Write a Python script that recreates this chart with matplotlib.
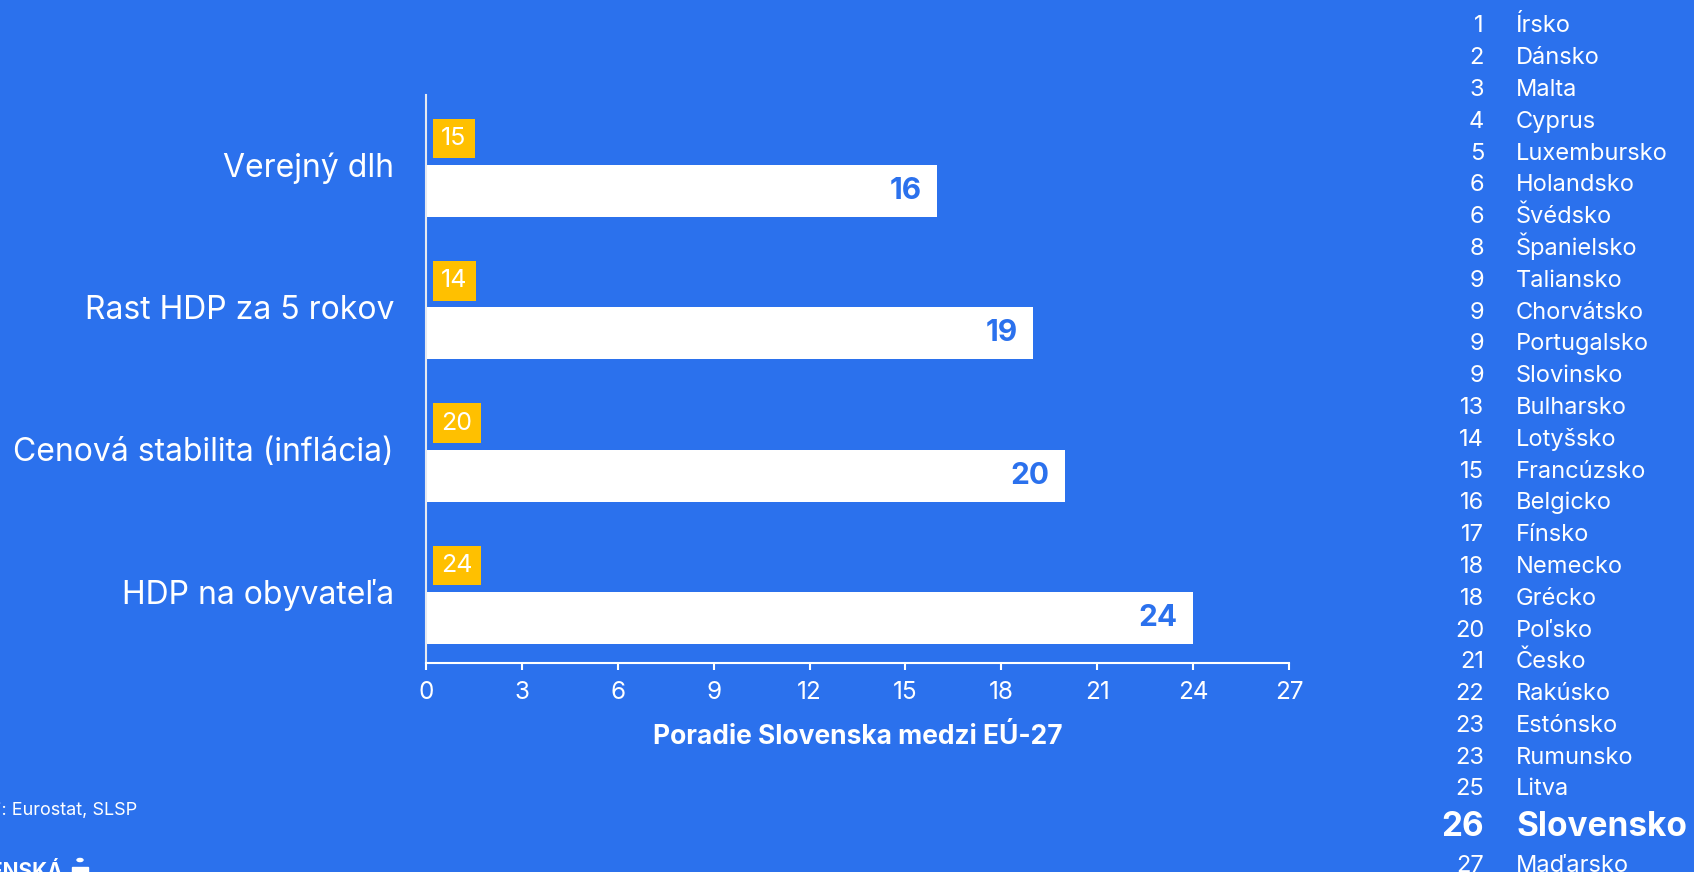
import matplotlib
matplotlib.use("Agg")
import matplotlib.pyplot as plt
from matplotlib.patches import Circle, Rectangle

# Poradie Slovenska medzi EU-27
categories = ["Verejný dlh", "Rast HDP za 5 rokov", "Cenová stabilita (inflácia)", "HDP na obyvateľa"]
current_rank = [16, 19, 20, 24]
previous_rank = [15, 14, 20, 24]

# zoznam krajín (HDP na obyvateľa)
list_ranks = [1, 2, 3, 4, 5, 6, 6, 8, 9, 9, 9, 9, 13, 14, 15, 16, 17, 18, 18, 20, 21, 22, 23, 23, 25, 26, 27]
list_countries = ["Írsko", "Dánsko", "Malta", "Cyprus", "Luxembursko", "Holandsko", "Švédsko",
                  "Španielsko", "Taliansko", "Chorvátsko", "Portugalsko", "Slovinsko", "Bulharsko",
                  "Lotyšsko", "Francúzsko", "Belgicko", "Fínsko", "Nemecko", "Grécko", "Poľsko",
                  "Česko", "Rakúsko", "Estónsko", "Rumunsko", "Litva", "Slovensko", "Maďarsko"]
highlight = "Slovensko"

xticks = [0, 3, 6, 9, 12, 15, 18, 21, 24, 27]

BLUE = "#2B71ED"
YELLOW = "#FFC000"

plt.rcParams["font.family"] = ["Inter", "DejaVu Sans"]

W, H = 1694, 872
fig = plt.figure(figsize=(W / 100, H / 100), dpi=100)
fig.patch.set_facecolor(BLUE)

ax = fig.add_axes([426 / W, 1 - 663 / H, (1289 - 426) / W, (663 - 95) / H])
ax.set_facecolor(BLUE)

ypos = list(range(len(categories)))
bar_h = 0.365
ax.barh([y + 0.185 for y in ypos], current_rank, height=bar_h, color="white", zorder=2)

for y, v, p in zip(ypos, current_rank, previous_rank):
    ax.annotate(str(v), xy=(v, y + 0.185), xytext=(-11.5, 0), textcoords="offset points",
                ha="right", va="center", fontsize=21.5, fontweight="bold", color=BLUE, zorder=3)
    ax.annotate(str(p), xy=(0, y - 0.185), xytext=(11, 0), textcoords="offset points",
                ha="left", va="center", fontsize=18, color="white", zorder=3,
                bbox=dict(boxstyle="square,pad=0.33", fc=YELLOW, ec="none"))

ax.set_xlim(0, 27)
ax.set_ylim(3.5, -0.49)
ax.set_xticks(xticks)
ax.set_yticks(ypos)
ax.set_yticklabels(categories, fontsize=23, color="white")
ax.tick_params(axis="y", length=0, pad=23)
ax.tick_params(axis="x", colors="white", labelsize=17.5, length=5, width=1.5, pad=8)
ax.set_xlabel("Poradie Slovenska medzi EÚ-27", fontsize=19, fontweight="bold",
              color="white", labelpad=14)
for s in ["top", "right"]:
    ax.spines[s].set_visible(False)
ax.spines["left"].set_color("#E6E9F0")
ax.spines["bottom"].set_color("white")
ax.spines["left"].set_linewidth(1.5)
ax.spines["bottom"].set_linewidth(1.5)

# zoznam krajín vpravo
base = 32.3
for r, c in zip(list_ranks, list_countries):
    if c == highlight:
        base += 8.7
        kw = dict(fontsize=24, fontweight="bold")
    else:
        kw = dict(fontsize=17)
    fig.text(1484 / W, 1 - base / H, str(r), ha="right", va="baseline", color="white", **kw)
    fig.text(1516 / W, 1 - base / H, c, ha="left", va="baseline", color="white", **kw)
    base += 31.8 if c != highlight else 36

# zdroj a logo
fig.text(137 / W, 1 - 815 / H, "Zdroj: Eurostat, SLSP", ha="right", va="baseline",
         fontsize=13, color="white")
fig.text(63 / W, 1 - 862 / H, "SLOVENSKÁ", ha="right", va="top", fontsize=15,
         fontweight="bold", color="white")
fig.patches.append(Circle((80 / W, 1 - 860 / H), 3 / W, transform=fig.transFigure,
                          color="white"))
fig.patches.append(Rectangle((72 / W, 0), 16 / W, 5 / H, transform=fig.transFigure,
                             color="white"))

fig.savefig("out.png", dpi=100, facecolor=BLUE)
